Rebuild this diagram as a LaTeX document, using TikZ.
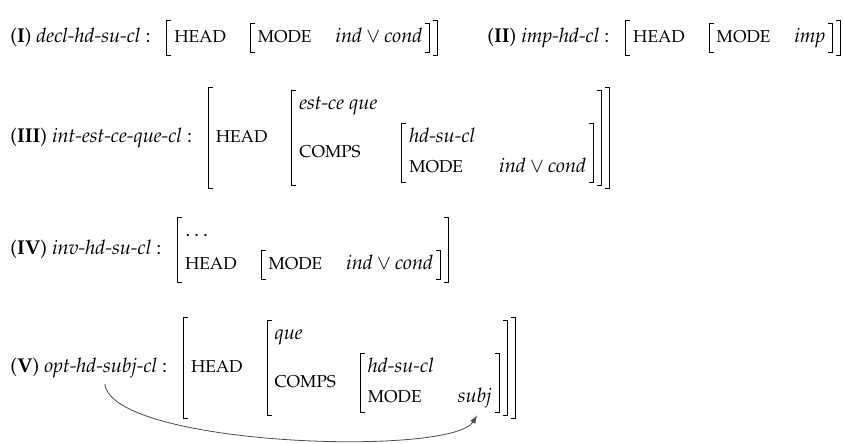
\documentclass[tikz,border=0pt]{standalone}
\usepackage[T1]{fontenc}
\usepackage{mathpazo}
\usepackage{amsmath}
\usetikzlibrary{positioning,calc}

\newcommand{\attr}[1]{\mbox{\fontsize{8.6pt}{10pt}\selectfont #1}}
\newcommand{\typ}[1]{\textit{#1}}
\newcommand{\avmlbrk}{%
  \rlap{\vrule width 2.5pt height\dimen0 depth-\dimexpr\dimen0-0.5pt\relax}%
  \rlap{\vrule width 2.5pt height-\dimexpr\dimen2-0.5pt\relax depth\dimen2}%
  \vrule width 0.5pt height\dimen0 depth\dimen2}
\newcommand{\avmrbrk}{%
  \vrule width 0.5pt height\dimen0 depth\dimen2
  \llap{\vrule width 2.5pt height\dimen0 depth-\dimexpr\dimen0-0.5pt\relax}%
  \llap{\vrule width 2.5pt height-\dimexpr\dimen2-0.5pt\relax depth\dimen2}}
\newcommand{\avm}[1]{{%
  \setbox0=\hbox{$\begin{array}{@{}l@{\hspace{12pt}}l@{}}#1\end{array}$}%
  \dimen0=\dimexpr\ht0+1.5pt\relax
  \dimen2=\dimexpr\dp0+1.5pt\relax
  \hbox{\avmlbrk\kern3.5pt\box0\kern3.5pt\avmrbrk}}}

\begin{document}
\begin{tikzpicture}[
    x=0.5pt, y=-0.5pt,
    lbl/.style={anchor=base west, inner sep=0pt},
    avmnode/.style={anchor=base west, inner sep=0pt},
    link/.style={->, >=latex, line width=0.4pt, black!70}
]
    \useasboundingbox (0,0) rectangle (843,444);

    \node[lbl] (labI) at (10,43) {(\textbf{I}) \typ{decl-hd-su-cl} :};
    \node[avmnode] (avmI) at ([xshift=7.5pt]labI.base east)
        {$\avm{\attr{HEAD} & \avm{\attr{MODE} & \typ{ind}\vee\typ{cond}}}$};

    \node[lbl] (labII) at (487,43) {(\textbf{II}) \typ{imp-hd-cl} :};
    \node[avmnode] (avmII) at ([xshift=7.5pt]labII.base east)
        {$\avm{\attr{HEAD} & \avm{\attr{MODE} & \typ{imp}}}$};

    \node[lbl] (labIII) at (10,143) {(\textbf{III}) \typ{int-est-ce-que-cl} :};
    \node[avmnode] (avmIII) at ([xshift=7.5pt]labIII.base east)
        {$\avm{\attr{HEAD} & \avm{\typ{est-ce que} & \\[3pt]
            \attr{COMPS} & \avm{\typ{hd-su-cl} & \\[3pt] \attr{MODE} & \typ{ind}\vee\typ{cond}}}}$};

    \node[lbl] (labIV) at (10,255) {(\textbf{IV}) \typ{inv-hd-su-cl} :};
    \node[avmnode] (avmIV) at ([xshift=7.5pt]labIV.base east)
        {$\avm{\ldots & \\[3pt] \attr{HEAD} & \avm{\attr{MODE} & \typ{ind}\vee\typ{cond}}}$};

    \node[lbl] (labV) at (10,373) {(\textbf{V}) \typ{opt-hd-subj-cl} :};
    \node[avmnode] (avmV) at ([xshift=7.5pt]labV.base east)
        {$\avm{\attr{HEAD} & \avm{\typ{que} & \\[3pt]
            \attr{COMPS} & \avm{\typ{hd-su-cl} & \\[3pt] \attr{MODE} & \typ{subj}}}}$};

    % link from the type name down to the subj value
    \coordinate (vfrom) at ([xshift=8pt,yshift=-2.5pt]labV.south);
    \coordinate (subjpt) at ([xshift=-19.5pt,yshift=2pt]avmV.south east);
    \draw[link] (vfrom) .. controls +(7,62) and +(-25,42) .. (subjpt);
\end{tikzpicture}
\end{document}
